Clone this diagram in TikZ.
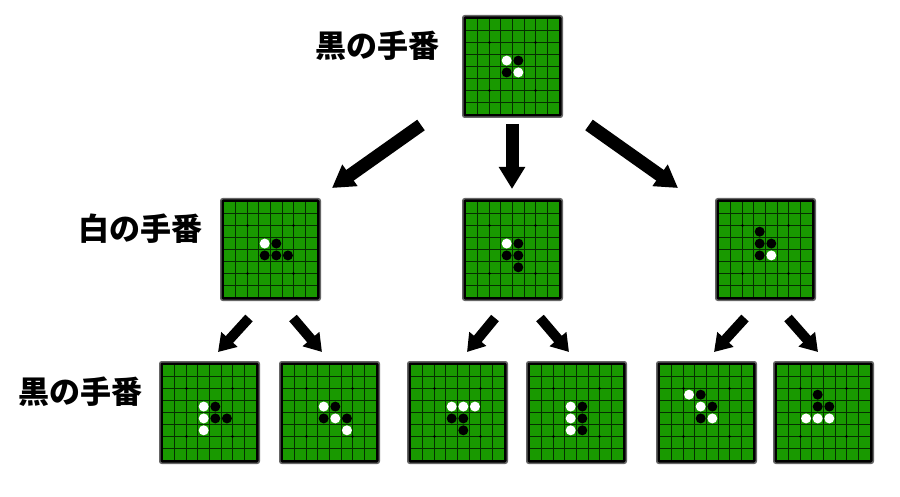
\documentclass[tikz,border=0pt]{standalone}
\usepackage{fontspec}
\newfontfamily\jpfont{Noto Sans CJK JP}
\usetikzlibrary{arrows.meta,calc}

\newlength{\du}
\setlength{\du}{1pt}

\definecolor{boardgreen}{rgb}{0.100000, 0.600000, 0.000000}
\definecolor{gridcolor}{rgb}{0.020000, 0.180000, 0.000000}
\definecolor{boardedge}{rgb}{0.400000, 0.400000, 0.400000}

\tikzset{
  boardbox/.style={draw=boardedge, line width=1.5\du, fill=black, rounded corners=2\du,
    minimum width=99.5\du, minimum height=101.5\du, inner sep=0pt},
  gridline/.style={draw=gridcolor, line width=1\du},
  bigarrow/.style={line width=13pt, -{Triangle[width=25pt,length=22pt]}},
  smallarrow/.style={line width=10pt, -{Triangle[width=21pt,length=17pt]}},
  turnlabel/.style={inner sep=0pt, font=\jpfont\bfseries\fontsize{31}{31}\selectfont}
}

% board: name, centre x, centre y, stones col/row/colour
\newcommand{\othelloboard}[4]{%
\node[boardbox] (#1) at (#2\du,#3\du) {};
\begin{scope}[shift={(#1.north west)}, shift={(4pt,4pt)}, x=1pt, y=1pt]
\fill[boardgreen] (0,0) rectangle (93,95);
\foreach \gx in {11,23,34,46,58,69,81}
\draw[gridline] ({\gx+0.5},0) -- ({\gx+0.5},95);
\foreach \gy in {11,23,35,47,59,71,83}
\draw[gridline] (0,{\gy+0.5}) -- (93,{\gy+0.5});
\foreach \sx/\sy in {23.5/23.5, 69.5/23.5, 23.5/71.5, 69.5/71.5}
\fill (\sx,\sy) circle[radius=1.4];
\foreach \cx/\cy/\stonecolor in {#4}
\fill[\stonecolor] ({(\cx+0.5)*11.625},{(\cy+0.5)*11.875}) circle[radius=5];
\end{scope}}

\begin{document}
\begin{tikzpicture}
\pgftransformxscale{1.000000}
\pgftransformyscale{-1.000000}
\fill[white] (0\du,0\du) rectangle (900\du,497\du);
\useasboundingbox (0\du,0\du) rectangle (900\du,497\du);

% first move, black
\othelloboard{top}{512.5}{66.5}{3/3/white, 4/3/black, 3/4/black, 4/4/white}

% white to move
\othelloboard{ml}{270.5}{249.5}{3/3/white, 4/3/black, 3/4/black, 4/4/black, 5/4/black}
\othelloboard{mc}{512.5}{249.5}{3/3/white, 4/3/black, 3/4/black, 4/4/black, 4/5/black}
\othelloboard{mr}{765.5}{249.5}{3/2/black, 3/3/black, 4/3/black, 3/4/black, 4/4/white}

% black to move
\othelloboard{bla}{209.5}{412.5}{3/3/white, 4/3/black, 3/4/white, 4/4/black, 5/4/black, 3/5/white}
\othelloboard{blb}{329.5}{412.5}{3/3/white, 4/3/black, 3/4/black, 4/4/white, 5/4/black, 5/5/white}
\othelloboard{bca}{457.5}{412.5}{3/3/white, 4/3/white, 5/3/white, 3/4/black, 4/4/black, 4/5/black}
\othelloboard{bcb}{576.5}{412.5}{3/3/white, 4/3/black, 3/4/white, 4/4/black, 3/5/white, 4/5/black}
\othelloboard{bra}{706.5}{412.5}{2/2/white, 3/2/black, 3/3/white, 4/3/black, 3/4/black, 4/4/white}
\othelloboard{brb}{823.5}{412.5}{3/2/black, 3/3/black, 4/3/black, 2/4/white, 3/4/white, 4/4/white}

\draw[bigarrow] ($(top.south)+(-91.5pt,7pt)$) -- ($(ml.north)+(61.5pt,-10pt)$);
\draw[bigarrow] ($(top.south)+(-0.5pt,6pt)$) -- ($(mc.north)+(-0.5pt,-9pt)$);
\draw[bigarrow] ($(top.south)+(76.5pt,7pt)$) -- ($(mr.north)+(-87.5pt,-10pt)$);

\draw[smallarrow] ($(ml.south)+(-21.5pt,17pt)$) -- ($(bla.north)+(8.5pt,-9pt)$);
\draw[smallarrow] ($(ml.south)+(22.5pt,17pt)$) -- ($(blb.north)+(-7.5pt,-9pt)$);
\draw[smallarrow] ($(mc.south)+(-17.5pt,17pt)$) -- ($(bca.north)+(9.5pt,-9pt)$);
\draw[smallarrow] ($(mc.south)+(27.5pt,17pt)$) -- ($(bcb.north)+(-7.5pt,-9pt)$);
\draw[smallarrow] ($(mr.south)+(-20.5pt,17pt)$) -- ($(bra.north)+(7.5pt,-9pt)$);
\draw[smallarrow] ($(mr.south)+(22.5pt,17pt)$) -- ($(brb.north)+(-5.5pt,-9pt)$);

% setfont left to latex
\node[turnlabel] (lbltop) at (377\du,46\du) {黒の手番};
\node[turnlabel] (lblmid) at (140\du,229\du) {白の手番};
\node[turnlabel] (lblbottom) at (81\du,392\du) {黒の手番};
\end{tikzpicture}
\end{document}
